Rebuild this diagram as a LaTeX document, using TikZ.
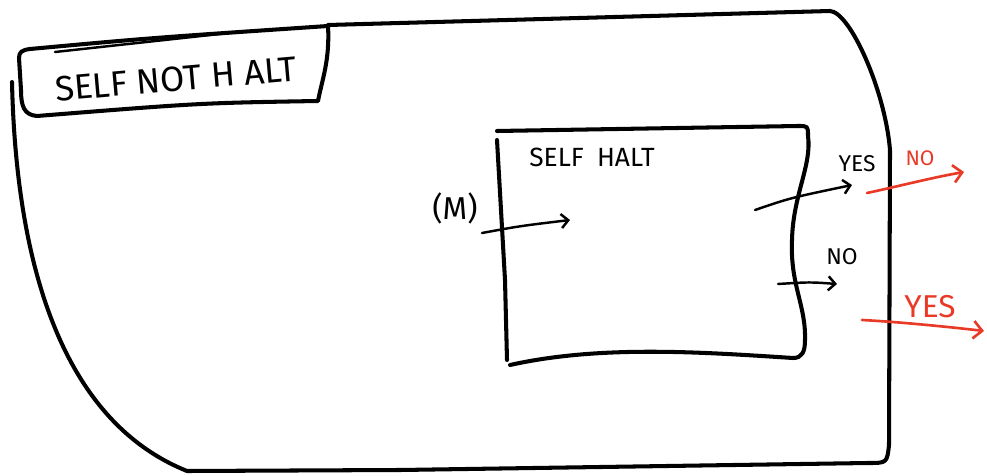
\documentclass[tikz,border=0pt]{standalone}
\usepackage{fontspec}
\setmainfont{Fira Sans}
\usetikzlibrary{arrows.meta,positioning}
\definecolor{ink}{RGB}{0,0,0}
\definecolor{redpen}{RGB}{232,58,38}

\tikzset{
  pen/.style={draw=ink,line width=2.3pt,line cap=round,line join=round},
  thinpen/.style={draw=ink,line width=1.4pt,line cap=round},
  blackarrow/.style={thinpen,-{Straight Barb[length=4pt,width=8pt]}},
  redarrow/.style={draw=redpen,line width=1.5pt,line cap=round,-{Straight Barb[length=5pt,width=10pt]}},
  sketchtext/.style={inner sep=0pt,text=ink}
}

\begin{document}
\begin{tikzpicture}[x=0.02cm,y=-0.02cm]
  \useasboundingbox (0,0) rectangle (987,476);

  % Outer region
  \draw[pen] (12,82) .. controls (16,260) and (60,420) .. (187,471)
    -- (400,470) -- (868,463) .. controls (887,463) .. (889,445)
    -- (890,150) .. controls (885,90) and (850,12) .. (830,11) -- (328,25);

  % Label box of the outer region
  \draw[pen] (37,116) .. controls (24,115) and (21,106) .. (21,90)
    -- (19,58) .. controls (19,52) and (22,50) .. (30,49) .. controls (150,38) .. (328,26)
    .. controls (330,60) and (322,80) .. (318,101)
    .. controls (200,103) .. (37,116);
  \draw[thinpen] (55,52) -- (247,31);
  \node[sketchtext,rotate=5,font=\fontsize{20}{20}\selectfont] (outerlabel) at (176,79) {SELF NOT H ALT};

  % Inner region
  \draw[pen] (497,131) -- (798,126) .. controls (808,126) .. (808,136)
    .. controls (812,165) and (793,195) .. (792,240)
    .. controls (790,285) and (806,305) .. (805,340)
    .. controls (805,352) and (802,358) .. (793,358)
    .. controls (700,352) and (600,345) .. (510,365);
  \draw[pen] (497,140) -- (505,280) -- (507,360);
  \node[sketchtext,font=\fontsize{15}{15}\selectfont] (innerlabel) at (592,157) {SELF\hspace{0.5em}HALT};

  % Input
  \node[sketchtext,font=\fontsize{18}{18}\selectfont] (input) at (455,208) {(M)};
  \coordinate (inS) at (482,233);
  \coordinate (inE) at (570,220);
  \draw[blackarrow] (inS) .. controls (520,226) .. (inE);

  % Outputs of the inner machine
  \node[sketchtext,font=\fontsize{13}{13}\selectfont] (yesin) at (857,164) {YES};
  \coordinate (yesS) at (755,210);
  \coordinate (yesE) at (852,185);
  \draw[blackarrow] (yesS) .. controls (790,198) .. (yesE);

  \node[sketchtext,font=\fontsize{13}{13}\selectfont] (noin) at (842,257) {NO};
  \coordinate (noS) at (778,284);
  \coordinate (noE) at (837,284);
  \draw[blackarrow] (noS) .. controls (810,282) .. (noE);

  % Outputs of the outer machine
  \node[sketchtext,text=redpen,font=\fontsize{12}{12}\selectfont] (noout) at (920,158) {NO};
  \coordinate (noOutS) at (867,193);
  \coordinate (noOutE) at (964,172);
  \draw[redarrow] (noOutS) .. controls (900,186) and (930,178) .. (noOutE);

  \node[sketchtext,text=redpen,font=\fontsize{18}{18}\selectfont] (yesout) at (930,307) {YES};
  \coordinate (yesOutS) at (862,320);
  \coordinate (yesOutE) at (984,331);
  \draw[redarrow] (yesOutS) .. controls (900,322) and (950,327) .. (yesOutE);
\end{tikzpicture}
\end{document}
